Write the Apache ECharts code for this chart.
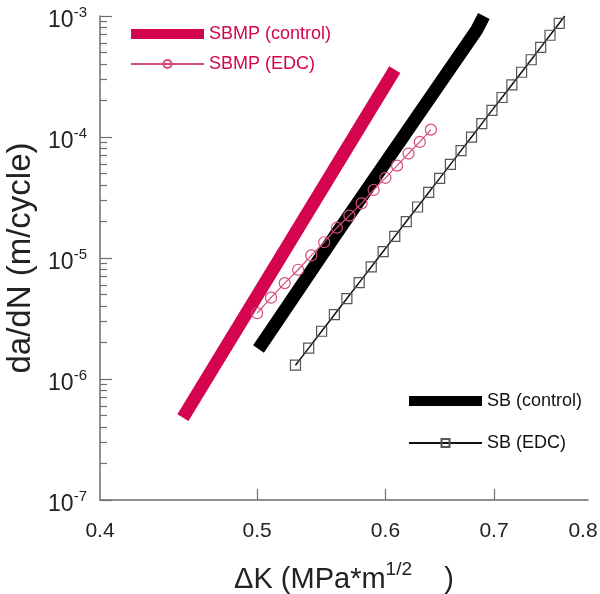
<!DOCTYPE html>
<html><head><meta charset="utf-8">
<script src="https://cdn.jsdelivr.net/npm/echarts@6/dist/echarts.min.js"></script>
<style>html,body{margin:0;padding:0;background:#fff}#c{width:600px;height:594px}</style>
</head><body><div id="c"></div>
<script>
// ---- data (ΔK in MPa*m^1/2, da/dN in m/cycle) ----
const xTickValues = [0.4, 0.5, 0.6, 0.7, 0.8];
const xInnerTicks = [0.5, 0.6, 0.7];
const yDecades = [-7, -6, -5, -4, -3];
const minorMantissas = [2, 3, 4, 5, 6, 7, 8, 9];

const sbmpControlX = [0.450, 0.608];
const sbmpControlY = [4.8e-7, 3.6e-4];

const sbControlX = [0.501, 0.559, 0.683, 0.690];
const sbControlY = [1.77e-6, 1.55e-5, 7.66e-4, 1.0e-3];

const sbmpEdcX = [0.50, 0.51, 0.52, 0.53, 0.54, 0.55, 0.56, 0.57, 0.58, 0.59, 0.60, 0.61, 0.62, 0.63, 0.64];
const sbmpEdcY = [3.5e-6, 4.7e-6, 6.2e-6, 8.0e-6, 1.05e-5, 1.35e-5, 1.78e-5, 2.24e-5, 2.83e-5, 3.65e-5, 4.6e-5, 5.8e-5, 7.3e-5, 9.1e-5, 1.15e-4];

const sbEdcX = [0.528, 0.538, 0.548, 0.558, 0.568, 0.578, 0.588, 0.598, 0.608, 0.618, 0.628, 0.638, 0.648, 0.658, 0.668, 0.678, 0.688, 0.698, 0.708, 0.718, 0.728, 0.738, 0.748, 0.758, 0.768];
const sbEdcY = [1.30e-6, 1.80e-6, 2.48e-6, 3.40e-6, 4.62e-6, 6.26e-6, 8.43e-6, 1.13e-5, 1.51e-5, 2.00e-5, 2.64e-5, 3.48e-5, 4.55e-5, 5.94e-5, 7.72e-5, 9.99e-5, 1.29e-4, 1.66e-4, 2.12e-4, 2.70e-4, 3.43e-4, 4.35e-4, 5.50e-4, 6.93e-4, 8.70e-4];
const sbEdcLineEnd = [0.774, 1.0e-3];

// ---- build ----
const L = Math.log10;
const FONT = 'Liberation Sans, Arial, sans-serif';
const CRIMSON = '#d4044f';
const PINK = '#d64a7e';
const AXIS = '#6e6e6e';
const toPts = (xs, ys) => xs.map((x, i) => [L(x), L(ys[i])]);

const minorTicks = [];
yDecades.slice(0, -1).forEach(d => minorMantissas.forEach(m => minorTicks.push(L(m * Math.pow(10, d)))));

const sbEdcData = toPts(sbEdcX, sbEdcY);
sbEdcData.push({ value: [L(sbEdcLineEnd[0]), L(sbEdcLineEnd[1])], symbol: 'none' });

const xMaxLog = L(xTickValues[xTickValues.length - 1]);

const chart = echarts.init(document.getElementById('c'), null, { renderer: 'canvas' });
chart.setOption({
  animation: false,
  backgroundColor: '#fff',
  grid: { left: 100, right: 12, top: 16, bottom: 94, containLabel: false, outerBoundsMode: 'none' },
  xAxis: {
    type: 'value', min: L(0.4), max: xMaxLog,
    axisLine: { lineStyle: { color: AXIS, width: 1.5 } },
    axisTick: { inside: true, length: 11, customValues: xInnerTicks.map(L), lineStyle: { color: AXIS, width: 1.2 } },
    axisLabel: { customValues: xTickValues.map(L),
      formatter: v => { const s = Math.pow(10, v).toFixed(1); return Math.abs(v - xMaxLog) < 1e-9 ? '{r|' + s + '}' : s; },
      rich: { r: { fontSize: 21, color: '#222', fontFamily: FONT, padding: [0, 10, 0, 0] } },
      fontSize: 21, margin: 21, color: '#222', fontFamily: FONT },
    splitLine: { show: false },
    name: 'ΔK (MPa*m{s|1/2}    )', nameLocation: 'middle', nameGap: 60,
    nameTextStyle: { fontSize: 29, color: '#222', fontFamily: FONT, lineHeight: 40,
      rich: { s: { fontSize: 19, lineHeight: 15, verticalAlign: 'top', color: '#222', fontFamily: FONT } } }
  },
  yAxis: [{
    type: 'value', min: -7, max: -3, interval: 1,
    axisLine: { lineStyle: { color: AXIS, width: 1.5 } },
    axisTick: { inside: true, length: 12, lineStyle: { color: AXIS, width: 1.2 } },
    axisLabel: { margin: 13, padding: [8, 0, 0, 0], formatter: v => '{a|10}{b|' + v + '}',
      rich: {
        a: { fontSize: 23, lineHeight: 24, padding: [8, 0, 0, 0], verticalAlign: 'bottom', color: '#222', fontFamily: FONT },
        b: { fontSize: 15, lineHeight: 16, padding: [0, 0, 12, 0], verticalAlign: 'bottom', color: '#222', fontFamily: FONT }
      } },
    splitLine: { show: false },
    name: 'da/dN (m/cycle)', nameLocation: 'middle', nameGap: 63,
    nameTextStyle: { fontSize: 33, color: '#222', fontFamily: FONT }
  }, {
    type: 'value', min: -7, max: -3, position: 'left',
    axisLine: { show: false },
    axisTick: { inside: true, length: 7, customValues: minorTicks, lineStyle: { color: AXIS, width: 1.2 } },
    axisLabel: { show: false },
    splitLine: { show: false }
  }],
  legend: [{
    data: [{ name: 'SBMP (control)', icon: 'rect', textStyle: { color: CRIMSON } },
           { name: 'SBMP (EDC)', textStyle: { color: CRIMSON } }],
    orient: 'vertical', left: 125, top: 20, itemWidth: 73, itemHeight: 10, itemGap: 12,
    selectedMode: false, textStyle: { fontSize: 18, fontFamily: FONT }
  }, {
    data: [{ name: 'SB (control)', icon: 'rect', textStyle: { color: '#111' } },
           { name: 'SB (EDC)', textStyle: { color: '#111' } }],
    orient: 'vertical', left: 403, top: 387, itemWidth: 73, itemHeight: 10, itemGap: 24,
    selectedMode: false, textStyle: { fontSize: 18, fontFamily: FONT }
  }],
  series: [{
    name: 'SBMP (control)', type: 'line', data: toPts(sbmpControlX, sbmpControlY),
    showSymbol: false, symbol: 'none', color: CRIMSON,
    lineStyle: { color: CRIMSON, width: 13, cap: 'butt' }
  }, {
    name: 'SB (control)', type: 'line', data: toPts(sbControlX, sbControlY),
    showSymbol: false, symbol: 'none', color: '#000',
    lineStyle: { color: '#000', width: 13, cap: 'butt', join: 'round' }
  }, {
    name: 'SB (EDC)', type: 'line', data: sbEdcData, color: '#111',
    symbol: 'rect', symbolSize: 10,
    itemStyle: { color: 'rgba(255,255,255,0)', borderColor: '#555', borderWidth: 1.2 },
    lineStyle: { color: '#111', width: 1.5 }
  }, {
    name: 'SBMP (EDC)', type: 'line', data: toPts(sbmpEdcX, sbmpEdcY), color: PINK,
    symbol: 'circle', symbolSize: 11,
    itemStyle: { color: 'rgba(255,255,255,0)', borderColor: PINK, borderWidth: 1.2 },
    lineStyle: { color: PINK, width: 1.2 }
  }]
});
</script>
</body></html>
